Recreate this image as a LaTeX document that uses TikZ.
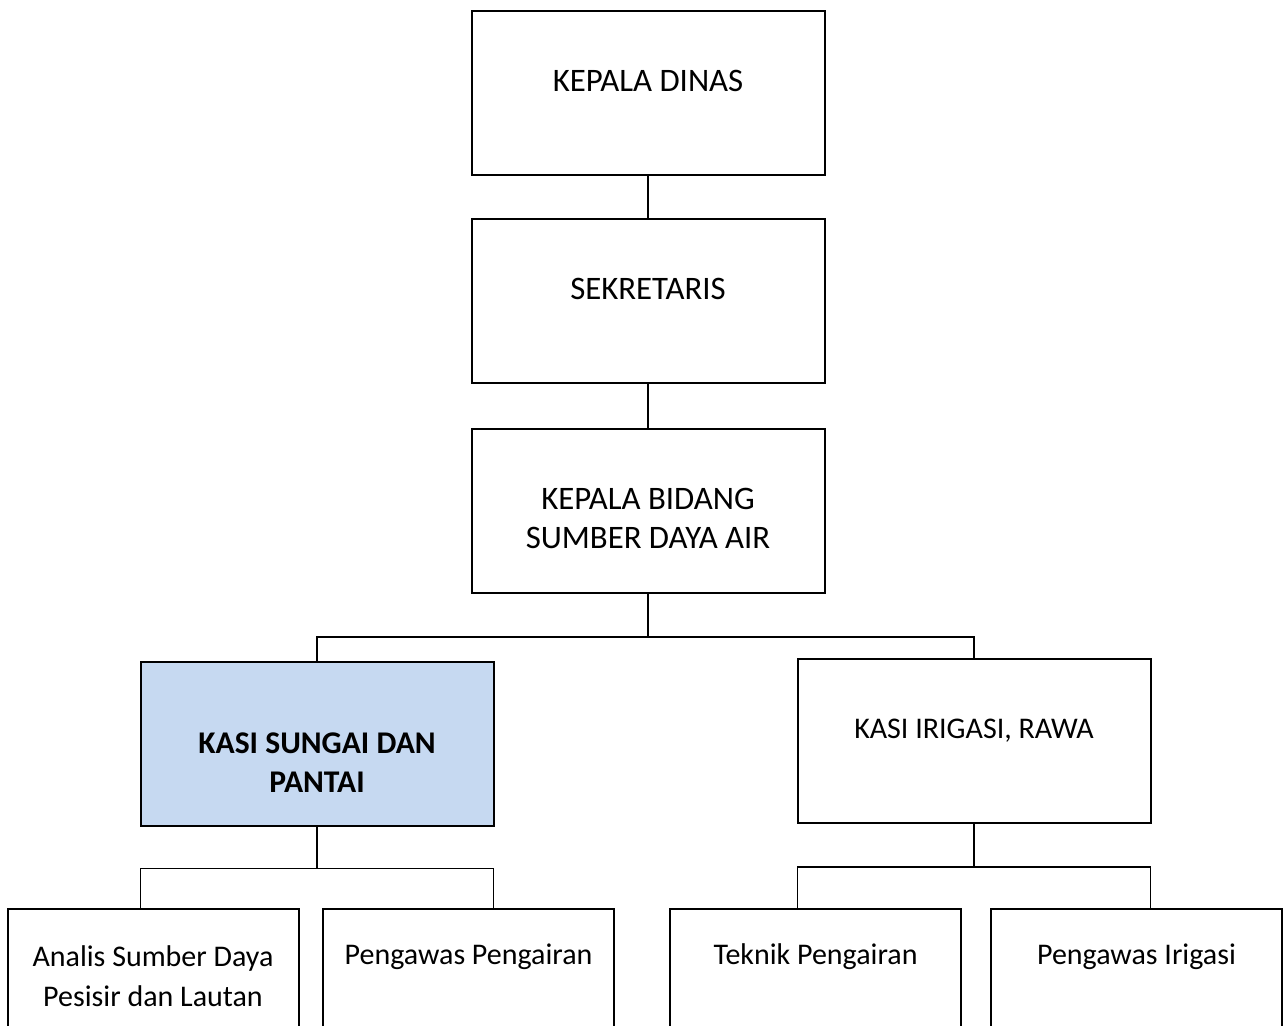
\documentclass[tikz,border=0pt]{standalone}
\usepackage{fontspec}
\setmainfont{Carlito}
\usetikzlibrary{positioning}
\definecolor{kasifill}{HTML}{C6D9F1}

\tikzset{
  orgbox/.style={draw,line width=1pt,minimum width=176.5pt,minimum height=82pt,inner sep=0pt},
  staffbox/.style={orgbox,minimum width=145.5pt},
  orgtext/.style={font=\fontsize{15}{20}\selectfont,align=center,inner sep=0pt,text depth=0pt},
  toptext/.style={orgtext,font=\fontsize{16.4}{19.5}\selectfont},
  link/.style={line width=0.8pt},
}

\begin{document}
\begin{tikzpicture}[x=0.5pt,y=-0.5pt]
  \useasboundingbox (0,0) rectangle (1288,1026);
  \clip (0,0) rectangle (1288,1026);
  % boxes
  \node[orgbox] (kd)  at (648,93)  {};
  \node[orgbox] (sek) at (648,301) {};
  \node[orgbox] (kb)  at (648,511) {};
  \node[orgbox,fill=kasifill] (ksp) at (317,743.5) {};
  \node[orgbox] (kir) at (974,741) {};
  \node[staffbox] (an) at (153,991)    {};
  \node[staffbox] (pp) at (468.5,991)  {};
  \node[staffbox] (tp) at (815.5,991)  {};
  \node[staffbox] (pi) at (1136.5,991) {};
  % texts
  \node[toptext] (kdt)  at ([yshift=-35.5pt]kd.north)  {KEPALA DINAS};
  \node[toptext] (sekt) at ([yshift=-35.5pt]sek.north) {SEKRETARIS};
  \node[toptext] (kbt)  at ([yshift=-45.25pt]kb.north) {KEPALA BIDANG\\SUMBER DAYA AIR};
  \node[orgtext,font=\fontsize{15.8}{19.5}\selectfont\bfseries] (kspt) at ([yshift=-51.25pt]ksp.north) {KASI SUNGAI DAN\\PANTAI};
  \node[orgtext] (kirt) at ([yshift=-35.5pt]kir.north) {KASI IRIGASI, RAWA};
  \node[orgtext] (ant)  at ([yshift=-34pt]an.north) {Analis Sumber Daya\\Pesisir dan Lautan};
  \node[orgtext] (ppt)  at ([yshift=-23pt]pp.north) {Pengawas Pengairan};
  \node[orgtext] (tpt)  at ([yshift=-23pt]tp.north) {Teknik Pengairan};
  \node[orgtext] (pit)  at ([yshift=-23pt]pi.north) {Pengawas Irigasi};
  % connectors
  \coordinate (kbj)  at ([yshift=-21.5pt]kb.south);
  \coordinate (kspj) at ([yshift=-21pt]ksp.south);
  \coordinate (kirj) at ([yshift=-21.5pt]kir.south);
  \draw[link] (kd) -- (sek);
  \draw[link] (sek) -- (kb);
  \draw[link] (kb) -- (kbj);
  \draw[link] (ksp.north) |- (kbj) -| (kir.north);
  \draw[link] (ksp) -- (kspj);
  \draw[link] ([xshift=0.5pt]ksp.south west |- an.north) |- (kspj) -| ([xshift=-0.5pt]ksp.south east |- pp.north);
  \draw[link] (kir) -- (kirj);
  \draw[link] ([xshift=0.5pt]kir.south west |- tp.north) |- (kirj) -| ([xshift=-0.5pt]kir.south east |- pi.north);
\end{tikzpicture}
\end{document}
